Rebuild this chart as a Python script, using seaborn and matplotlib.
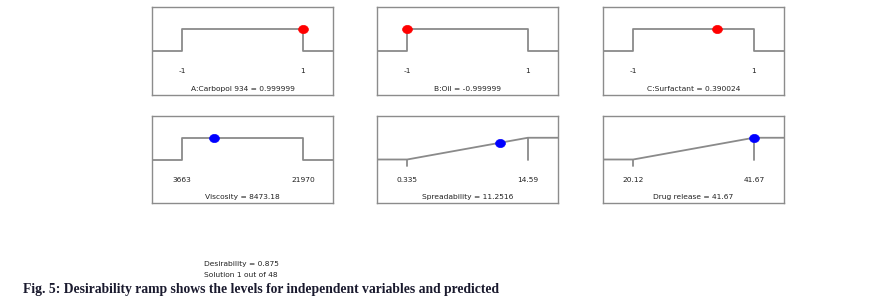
import numpy as np
import pandas as pd
import matplotlib
matplotlib.use("Agg")
import matplotlib.pyplot as plt
from matplotlib.path import Path
import seaborn as sns

# ---- data ----
names = ["A:Carbopol 934", "B:Oil", "C:Surfactant", "Viscosity", "Spreadability", "Drug release"]
values = [0.999999, -0.999999, 0.390024, 8473.18, 11.2516, 41.67]
value_labels = ["0.999999", "-0.999999", "0.390024", "8473.18", "11.2516", "41.67"]
lows = [-1, -1, -1, 3663, 0.335, 20.12]
highs = [1, 1, 1, 21970, 14.59, 41.67]
low_labels = ["-1", "-1", "-1", "3663", "0.335", "20.12"]
high_labels = ["1", "1", "1", "21970", "14.59", "41.67"]
kinds = ["range", "range", "range", "range", "max", "max"]
point_colors = ["#ff0000", "#ff0000", "#ff0000", "#0000ff", "#0000ff", "#0000ff"]
desirability = 0.875
solution = 1
n_solutions = 48

sns.set_theme(style="white")
plt.rcParams['font.family'] = ['DejaVu Sans']

fig = plt.figure(figsize=(8.78, 3.07), dpi=100)

lefts = [152 / 878, 377 / 878, 603 / 878]
rows = [(1 - 95 / 307, 88 / 307), (1 - 203 / 307, 87 / 307)]
W = 181 / 878
LINE = "#8a8a8a"
Y_LO, Y_HI = 0.5, 0.75

circ = Path.unit_circle()
ellipse = Path(circ.vertices * np.array([1.2, 1.0]), circ.codes)

for i in range(6):
    r, c = divmod(i, 3)
    b, h = rows[r]
    ax = fig.add_axes([lefts[c], b, W, h])
    lo, hi = lows[i], highs[i]
    span = hi - lo
    xmin, xmax = lo - 0.25 * span, hi + 0.25 * span
    if kinds[i] == "range":
        xs = [xmin, lo, lo, hi, hi, xmax]
        ys = [Y_LO, Y_LO, Y_HI, Y_HI, Y_LO, Y_LO]
    else:
        xs = [xmin, lo, hi, xmax]
        ys = [Y_LO, Y_LO, Y_HI, Y_HI]
    df = pd.DataFrame({"x": xs, "y": ys})
    sns.lineplot(data=df, x="x", y="y", sort=False, estimator=None, ax=ax,
                 color=LINE, linewidth=1.3)
    if kinds[i] == "max":
        ax.plot([hi, hi], [Y_HI, Y_LO - 0.01], color=LINE, lw=1.3)
        ax.plot([lo, lo], [Y_LO, Y_LO - 0.07], color=LINE, lw=1.3)
    if kinds[i] == "max":
        py = np.interp(values[i], xs, ys)
    else:
        py = Y_HI
    pdf = pd.DataFrame({"x": [values[i]], "y": [py]})
    sns.scatterplot(data=pdf, x="x", y="y", ax=ax, color=point_colors[i],
                    s=50, marker=ellipse, edgecolor=point_colors[i], linewidth=0.5,
                    zorder=5, clip_on=False)
    ax.set_xlim(xmin, xmax)
    ax.set_ylim(0, 1)
    ax.set_xticks([])
    ax.set_yticks([])
    ax.set_xlabel("")
    ax.set_ylabel("")
    for s in ax.spines.values():
        s.set_color("#8c8c8c")
        s.set_linewidth(1.0)
    ax.text(lo, 0.27, low_labels[i], ha="center", va="center", fontsize=5.4, color="#222222")
    ax.text(hi, 0.27, high_labels[i], ha="center", va="center", fontsize=5.4, color="#222222")
    ax.text((xmin + xmax) / 2, 0.065, f"{names[i]} = {value_labels[i]}",
            ha="center", va="center", fontsize=5.4, color="#222222")

fig.text(241 / 878, 1 - 264 / 307, f"Desirability = {desirability}", ha="center", va="center",
         fontsize=5.4, color="#222222")
fig.text(241 / 878, 1 - 275 / 307, f"Solution {solution} out of {n_solutions}", ha="center",
         va="center", fontsize=5.4, color="#222222")
fig.text(23 / 878, 1 - 290 / 307,
         "Fig. 5: Desirability ramp shows the levels for independent variables and predicted",
         ha="left", va="center", fontsize=9.85, fontweight="bold", family="Liberation Serif",
         color="#1a1a2e")

fig.savefig("out.png", dpi=100)
